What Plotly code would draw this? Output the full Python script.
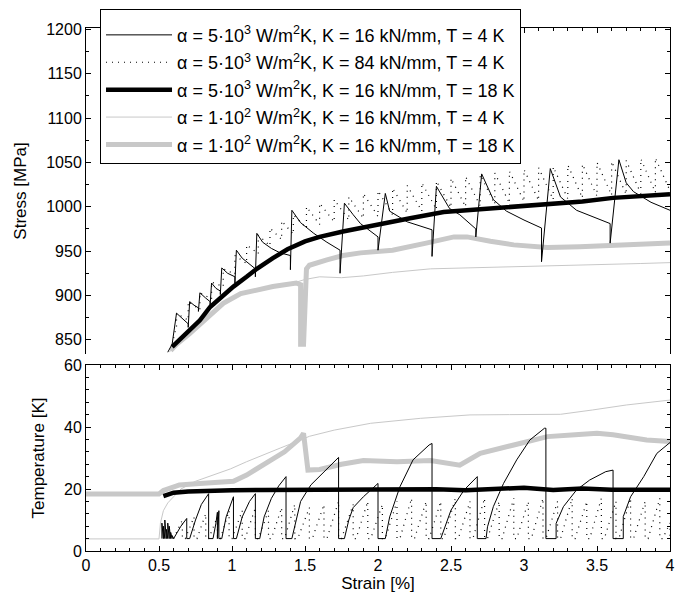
import plotly.graph_objects as go

# ---- values ----
# thin black: alpha=5e3, K=16 kN/mm, T=4 K
thin_blk_top_x = [0.56, 0.59, 0.62,
                  0.66, 0.70, 0.70, 0.71,
                  0.74, 0.77, 0.77, 0.78,
                  0.82, 0.85, 0.85, 0.86,
                  0.89, 0.92, 0.92, 0.93,
                  0.97, 1.02, 1.02, 1.03,
                  1.07, 1.12, 1.16, 1.16, 1.17,
                  1.21, 1.27, 1.33, 1.40, 1.40, 1.41,
                  1.47, 1.56, 1.65, 1.74, 1.74, 1.77,
                  1.83, 1.88, 2.00, 2.00, 2.05,
                  2.08, 2.20, 2.37, 2.37, 2.40,
                  2.49, 2.56, 2.67, 2.67, 2.71,
                  2.79, 2.88, 3.00, 3.12, 3.12, 3.18,
                  3.25, 3.36, 3.59, 3.59, 3.65,
                  3.70, 3.75, 3.87, 4.00]
thin_blk_top_y = [836, 845, 880,
                  874, 868, 864, 893,
                  889, 886, 882, 903,
                  897, 893, 889, 914,
                  908, 905, 901, 931,
                  925, 921, 914, 951,
                  942, 935, 930, 921, 970,
                  960, 953, 948, 945, 929, 996,
                  982, 970, 960, 951, 925, 1004,
                  991, 981, 966, 951, 1015,
                  995, 983, 974, 944, 1023,
                  998, 991, 975, 966, 1037,
                  1008, 995, 985, 976, 938, 1043,
                  1011, 996, 981, 959, 1053,
                  1027, 1017, 1005, 996]
thin_blk_bot_x = [0.52, 0.52, 0.53, 0.53, 0.54, 0.54, 0.55, 0.55, 0.56, 0.56, 0.57, 0.57, 0.58, 0.58, 0.59, 0.59,
                  0.60, 0.65, 0.69, 0.69,
                  0.71, 0.75, 0.79, 0.84, 0.84,
                  0.87, 0.89, 0.90, 0.90, 0.91, 0.91,
                  0.93, 0.96, 0.99, 1.01, 1.01,
                  1.03, 1.07, 1.12, 1.16, 1.16,
                  1.19, 1.22, 1.27, 1.32, 1.37, 1.37,
                  1.41, 1.44, 1.47, 1.54, 1.63, 1.73, 1.73,
                  1.77, 1.80, 1.83, 1.90, 1.98, 2.00, 2.00,
                  2.05, 2.08, 2.15, 2.24, 2.35, 2.37, 2.37,
                  2.43, 2.45, 2.50, 2.59, 2.67, 2.68, 2.68,
                  2.74, 2.75, 2.79, 2.86, 2.95, 3.04, 3.14, 3.15, 3.15,
                  3.22, 3.22, 3.27, 3.36, 3.45, 3.56, 3.61, 3.61,
                  3.68, 3.68, 3.73, 3.82, 3.91, 3.98, 4.00]
thin_blk_bot_y = [4, 9, 4, 8, 4, 10, 4, 7, 4, 9, 4, 8, 4, 6, 4, 5,
                  4, 8, 10.5, 4,
                  4, 10, 15, 18.5, 4,
                  4, 9, 12.5, 4, 13, 4,
                  4, 11, 15, 17.5, 4,
                  4, 11, 16, 18.5, 4,
                  4, 11, 17, 21, 24, 4,
                  4, 10, 16, 21.3, 25.6, 30.2, 4,
                  4, 10, 14, 17.5, 21, 21.8, 4,
                  4, 11, 20.7, 29.4, 34.2, 34.7, 4,
                  4, 6.8, 13.2, 19.7, 23.5, 24, 4,
                  4, 7.8, 14.3, 21.8, 29.4, 35.8, 39.6, 39.6, 4,
                  4, 8.9, 14.3, 19.7, 22.9, 25.6, 26.1, 4,
                  4, 11.1, 17.5, 24, 31.5, 34.2, 35]

# dotted: alpha=5e3, K=84 kN/mm, T=4 K (sawtooth: rise at each x, then decay)
dot_top_x = [0.62, 0.70, 0.78, 0.86, 0.94, 1.02, 1.10, 1.18, 1.26, 1.34, 1.42, 1.51,
             1.60, 1.70, 1.80, 1.90, 2.00, 2.10, 2.20, 2.30, 2.40, 2.50, 2.60, 2.70,
             2.80, 2.90, 3.00, 3.10, 3.20, 3.30, 3.40, 3.50, 3.60, 3.70, 3.80, 3.90]
dot_top_low = [865, 872, 884, 896, 910, 924, 936, 947, 956, 963, 969, 976,
               980, 983, 985, 987, 989, 991, 993, 995, 997, 999, 1000, 1001,
               1003, 1004, 1006, 1007, 1008, 1009, 1010, 1012, 1013, 1014, 1015, 1016]
dot_top_high = [880, 893, 903, 915, 930, 945, 957, 968, 976, 984, 991, 1000,
                1004, 1008, 1011, 1015, 1018, 1021, 1024, 1027, 1029, 1032, 1034, 1036,
                1038, 1040, 1042, 1044, 1045, 1047, 1048, 1050, 1051, 1052, 1054, 1055]
dot_top_end = (4.00, 1018)
dot_bot_start = [0.60, 0.68, 0.76, 0.84, 0.92, 1.00, 1.09, 1.18, 1.27, 1.36, 1.45, 1.55,
                 1.65, 1.75, 1.85, 1.95, 2.05, 2.15, 2.25, 2.35, 2.45, 2.55, 2.65, 2.75,
                 2.85, 2.95, 3.05, 3.15, 3.25, 3.35, 3.45, 3.55, 3.65, 3.75, 3.85, 3.95]
dot_bot_peak_x = [0.66, 0.74, 0.82, 0.90, 0.98, 1.07, 1.16, 1.25, 1.34, 1.43, 1.53, 1.63,
                  1.73, 1.83, 1.93, 2.03, 2.13, 2.23, 2.33, 2.43, 2.53, 2.63, 2.73, 2.83,
                  2.93, 3.03, 3.13, 3.23, 3.33, 3.43, 3.53, 3.63, 3.73, 3.83, 3.93, 4.00]
dot_bot_peak_y = [10, 11, 12, 11, 13, 13, 14, 13, 14, 15, 14, 15,
                  16, 15, 16, 15, 16, 17, 16, 16, 17, 16, 17, 16,
                  17, 16, 17, 16, 17, 16, 17, 16, 17, 16, 17, 9]
base_temp = 4

# thick black: alpha=5e3, K=16 kN/mm, T=18 K
thick_blk_top_x = [0.59, 0.65, 0.71, 0.78, 0.85, 0.93, 1.01, 1.10, 1.17, 1.28, 1.38, 1.50, 1.60,
                   1.76, 1.99, 2.22, 2.45, 2.68, 2.90, 3.16, 3.40, 3.61, 3.80, 4.00]
thick_blk_top_y = [842, 851, 861, 872, 887, 899, 910, 921, 930, 942, 952, 961, 966,
                   972, 980, 987, 994, 997, 999, 1003, 1006, 1010, 1012, 1014]
thick_blk_bot_x = [0.53, 0.56, 0.60, 0.70, 0.80, 1.00, 1.20, 1.50, 1.80, 2.00, 2.20, 2.40,
                   2.60, 2.80, 3.00, 3.20, 3.40, 3.60, 3.80, 4.00]
thick_blk_bot_y = [17.7, 18.3, 18.8, 19.2, 19.4, 19.6, 19.7, 19.8, 19.9, 19.9, 19.8, 19.9,
                   19.6, 20.1, 20.4, 19.7, 20.2, 19.8, 19.9, 19.8]

# thin grey: alpha=1e2, K=16 kN/mm, T=4 K
thin_gry_top_x = [0.57, 0.62, 0.71, 0.83, 0.94, 1.06, 1.17, 1.28, 1.40, 1.50, 1.60, 1.75,
                  1.90, 2.10, 2.36, 2.60, 2.90, 3.20, 3.50, 3.80, 4.00]
thin_gry_top_y = [836, 845, 857, 874, 891, 902, 906, 910, 913, 918, 921, 920,
                  922, 926, 930, 931, 932, 933, 934, 936, 937]
thin_gry_bot_x = [0, 0.50, 0.51, 0.53, 0.56, 0.60, 0.65, 0.75, 0.87, 0.99, 1.10, 1.21,
                  1.33, 1.47, 1.53, 1.70, 1.95, 2.29, 2.63, 2.90, 3.25, 3.47, 3.70, 4.00]
thin_gry_bot_y = [3.9, 3.9, 9, 13, 15.5, 17.5, 20, 22.5, 24.5, 26.5, 28.8, 31,
                  33.2, 35.8, 37, 39, 41.2, 42.8, 43.9, 44, 44.1, 45.5, 47.1, 48.7]

# thick grey: alpha=1e2, K=16 kN/mm, T=18 K
thick_gry_top_x = [0.58, 0.62, 0.71, 0.83, 0.94, 1.06, 1.17, 1.28, 1.44, 1.47, 1.47, 1.49,
                   1.51, 1.53, 1.65, 1.76, 1.88, 2.10, 2.33, 2.52, 2.61, 2.70, 2.77, 2.93,
                   3.16, 3.38, 3.61, 4.00]
thick_gry_top_y = [838, 845, 857, 874, 891, 902, 906, 910, 914, 912, 845, 845,
                   930, 934, 940, 945, 948, 951, 959, 966, 966, 963, 961, 957,
                   954, 955, 957, 959]
thick_gry_bot_x = [0, 0.50, 0.53, 0.58, 0.64, 0.78, 0.92, 1.01, 1.10, 1.24, 1.36, 1.47,
                   1.49, 1.52, 1.60, 1.75, 1.90, 2.13, 2.36, 2.56, 2.70, 2.93, 3.16, 3.35,
                   3.50, 3.61, 3.84, 4.00]
thick_gry_bot_y = [18.4, 18.4, 19.5, 20.5, 21.3, 21.8, 22, 22.5, 24.5, 28.3, 32, 36.5,
                   38, 26.1, 26.3, 28, 29.2, 28.8, 29.2, 27.7, 31.5, 34.2, 36.9, 37.5,
                   38, 37.5, 35.8, 35.3]

names = ['α = 5·10<sup>3</sup> W/m<sup>2</sup>K, K = 16 kN/mm, T = 4 K',
         'α = 5·10<sup>3</sup> W/m<sup>2</sup>K, K = 84 kN/mm, T = 4 K',
         'α = 5·10<sup>3</sup> W/m<sup>2</sup>K, K = 16 kN/mm, T = 18 K',
         'α = 1·10<sup>2</sup> W/m<sup>2</sup>K, K = 16 kN/mm, T = 4 K',
         'α = 1·10<sup>2</sup> W/m<sup>2</sup>K, K = 16 kN/mm, T = 18 K']

# build sawtooth polylines for the dotted series from the read values
dot_tx, dot_ty = [0.60], [852]
for x, lo, hi in zip(dot_top_x, dot_top_low, dot_top_high):
    dot_tx += [x, x]
    dot_ty += [lo, hi]
dot_tx.append(dot_top_end[0])
dot_ty.append(dot_top_end[1])

dot_bx, dot_by = [], []
for s, px, py in zip(dot_bot_start, dot_bot_peak_x, dot_bot_peak_y):
    dot_bx += [s, px, px]
    dot_by += [base_temp, py, base_temp]

FONT = 'Arial, Liberation Sans, sans-serif'
GREY = '#c8c8c8'

fig = go.Figure()

series = [
    # (top x, top y, bottom x, bottom y, line, legend rank)
    (thick_gry_top_x, thick_gry_top_y, thick_gry_bot_x, thick_gry_bot_y, dict(color=GREY, width=5), 5),
    (thin_gry_top_x, thin_gry_top_y, thin_gry_bot_x, thin_gry_bot_y, dict(color=GREY, width=1), 4),
    (dot_tx, dot_ty, dot_bx, dot_by, dict(color='black', width=1.2, dash='1px,5px'), 2),
    (thin_blk_top_x, thin_blk_top_y, thin_blk_bot_x, thin_blk_bot_y, dict(color='black', width=1), 1),
    (thick_blk_top_x, thick_blk_top_y, thick_blk_bot_x, thick_blk_bot_y, dict(color='black', width=4.5), 3),
]

for tx, ty, bx, by, line, rank in series:
    fig.add_trace(go.Scatter(x=tx, y=ty, mode='lines', line=line, name=names[rank - 1],
                             legendrank=rank, legendgroup=str(rank), xaxis='x2', yaxis='y2'))
    fig.add_trace(go.Scatter(x=bx, y=by, mode='lines', line=line, showlegend=False,
                             legendgroup=str(rank), xaxis='x', yaxis='y'))

ax = dict(showline=True, linecolor='black', linewidth=1, ticks='inside', tickcolor='black',
          ticklen=5, showgrid=False, zeroline=False, tickfont=dict(size=16, color='black'))

fig.update_layout(
    width=694, height=599,
    margin=dict(l=86, r=24, t=28, b=48, autoexpand=False),
    plot_bgcolor='white', paper_bgcolor='white',
    font=dict(family=FONT, color='black', size=16),
    xaxis=dict(ax, range=[0, 4], dtick=0.5, mirror='ticks', anchor='y',
               minor=dict(dtick=0.1, ticks='inside', ticklen=3, tickcolor='black'),
               title=dict(text='Strain [%]', font=dict(size=17), standoff=0)),
    yaxis=dict(ax, range=[0, 60], dtick=20, mirror='ticks', domain=[0, 0.3556], anchor='x',
               minor=dict(dtick=4, ticks='inside', ticklen=3, tickcolor='black'),
               title=dict(text='Temperature [K]', font=dict(size=17))),
    xaxis2=dict(ax, range=[0, 4], dtick=0.5, side='top', anchor='y2', showticklabels=False,
                minor=dict(dtick=0.1, ticks='inside', ticklen=3, tickcolor='black')),
    yaxis2=dict(ax, range=[834, 1201.5], tick0=850, dtick=50, mirror='ticks',
                domain=[0.3767, 1], anchor='x2',
                minor=dict(dtick=25, ticks='inside', ticklen=3, tickcolor='black'),
                title=dict(text='Stress [MPa]', font=dict(size=17))),
    legend=dict(x=0.024, y=1.036, xanchor='left', yanchor='top', bgcolor='white',
                bordercolor='black', borderwidth=1, itemwidth=66, tracegroupgap=1,
                title=dict(text='&nbsp;', font=dict(size=5)),
                font=dict(family=FONT, size=18, color='black')),
    showlegend=True,
)

# the page body has a default 8px margin; remove it so the chart fills the window
fig.write_html("out.html", config={'displayModeBar': False},
               post_script="document.body.style.margin='0';")
